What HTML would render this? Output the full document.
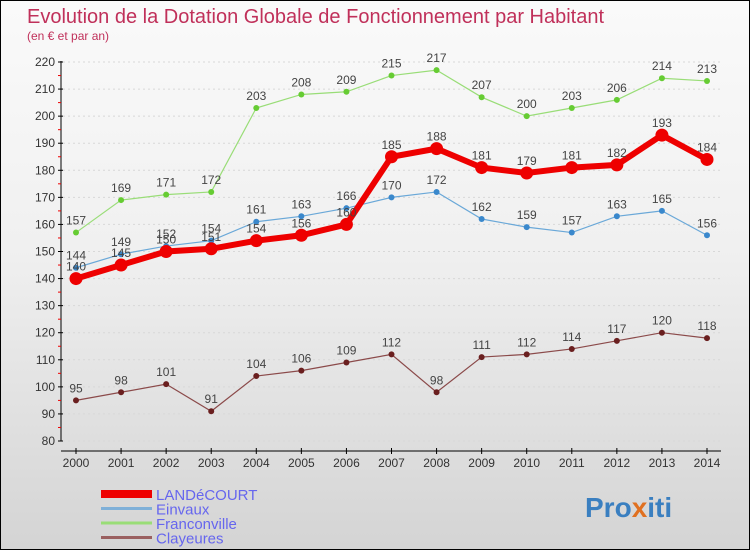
<!DOCTYPE html>
<html><head><meta charset="utf-8"><style>
body{margin:0}
#c{width:750px;height:550px;position:relative;overflow:hidden;border:1px solid #000;box-sizing:border-box;background:linear-gradient(#fafafa,#f0f0f0 45%,#d4d4d4);font-family:"Liberation Sans",sans-serif}
</style></head><body>
<div id="c">
<svg id="s" width="750" height="550">
<text x="26" y="22" font-size="20" fill="#c0305a">Evolution de la Dotation Globale de Fonctionnement par Habitant</text>
<text x="26" y="39" font-size="12" fill="#c0305a">(en € et par an)</text>
<text x="584" y="516" font-size="28" font-weight="bold" fill="#3a7fc0">Pro<tspan fill="#e07020">x</tspan>iti</text>
</svg>
</div>
<script>
const years=[2000,2001,2002,2003,2004,2005,2006,2007,2008,2009,2010,2011,2012,2013,2014];
const landecourt=[140,145,150,151,154,156,160,185,188,181,179,181,182,193,184];
const einvaux=[144,149,152,154,161,163,166,170,172,162,159,157,163,165,156];
const franconville=[157,169,171,172,203,208,209,215,217,207,200,203,206,214,213];
const clayeures=[95,98,101,91,104,106,109,112,98,111,112,114,117,120,118];
const yTicks=[80,90,100,110,120,130,140,150,160,170,180,190,200,210,220];
const names=["LANDéCOURT","Einvaux","Franconville","Clayeures"];
const s=document.getElementById('s');const NS="http://www.w3.org/2000/svg";
const X=i=>75+i*(706-75)/14;
const Y=v=>440-(v-80)*(440-61)/140;
function el(t,a,p){const e=document.createElementNS(NS,t);for(const k in a)e.setAttribute(k,a[k]);(p||s).appendChild(e);return e;}
let ax=el('line',{x1:60,y1:60,x2:60,y2:440,stroke:'#000'});


let xa=el('line',{x1:60,y1:450,x2:720,y2:450,stroke:'#000'});


yTicks.forEach(v=>{
 el('line',{x1:57,y1:Y(v),x2:62,y2:Y(v),stroke:'#000'});
 if(v<220)el('line',{x1:57,y1:Y(v+5),x2:60,y2:Y(v+5),stroke:'#e00'});
 const t=el('text',{x:54,y:Y(v)+4,'font-size':12,'text-anchor':'end',fill:'#333'});t.textContent=v;
 
 
 el('line',{x1:62,y1:Y(v),x2:720,y2:Y(v),stroke:'#d8d8d8','stroke-dasharray':'2,3'});
});
years.forEach((y,i)=>{
 el('line',{x1:X(i),y1:447,x2:X(i),y2:453,stroke:'#000'});
 const t=el('text',{x:X(i),y:466,'font-size':12,'text-anchor':'middle',fill:'#333'});t.textContent=y;
 
 
});
function series(d,col,dot,w,r,name,labelBelow){
 const g=el('g',{});
 
 
 el('polyline',{points:d.map((v,i)=>X(i)+','+Y(v)).join(' '),fill:'none',stroke:col,'stroke-width':w},g);
 d.forEach((v,i)=>{
  const c=el('circle',{cx:X(i),cy:Y(v),r:r,fill:dot},g);
  
  
  const t=el('text',{x:X(i),y:Y(v)-8,'font-size':12,'text-anchor':'middle',fill:'#444'},g);t.textContent=v;
  
  
 });
}
series(clayeures,'#8b4a4a','#6a1f1f',1.2,3,'clayeures');
series(franconville,'#99dd77','#66cc33',1.2,3,'franconville');
series(einvaux,'#6aa8d8','#3a88cc',1.2,3,'einvaux');
series(landecourt,'#ee0000','#ee0000',6,6.5,'landecourt');
const cols=['#ee0000','#7fb0d8','#99dd77','#9a6060'],ws=[8,3,3,3];
names.forEach((n,i)=>{
 const y=493+i*14.5;
 const l=el('line',{x1:100,y1:y,x2:151,y2:y,stroke:cols[i],'stroke-width':ws[i]});
 
 
 const t=el('text',{x:155,y:y+6,'font-size':15,fill:'#6666ee'});t.textContent=n;
 
 
});
</script>
</body></html>
